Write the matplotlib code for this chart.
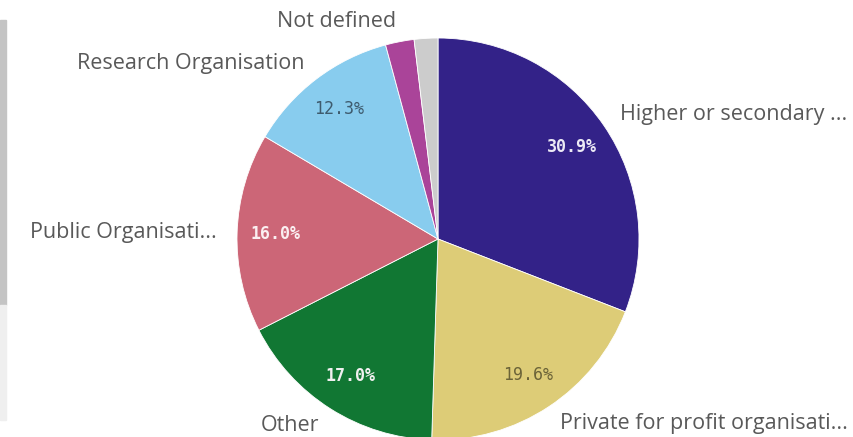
import numpy as np
import matplotlib.pyplot as plt
from matplotlib.patches import Rectangle

# ============================== Data ==========================================
categories = ["Higher or secondary ...", "Private for profit organisati...", "Other",
              "Public Organisati...", "Research Organisation", "Not defined", ""]
shares = [30.9, 19.6, 17.0, 16.0, 12.3, 2.3, 1.9]
pct_shown = ["30.9%", "19.6%", "17.0%", "16.0%", "12.3%", "", ""]
colors = ["#332288", "#DDCC77", "#117733", "#CC6677", "#88CCEE", "#AA4499", "#CCCCCC"]
pct_colors = ["#ECEAF5", "#6B6338", "#F0F0F0", "#FBEFF1", "#3E5B6E", "k", "k"]
pct_bold = [True, False, True, True, False, False, False]

# ============================== Figure ========================================
W, H = 854, 437
fig = plt.figure(figsize=(W/100, H/100), dpi=100)

# left side panel edge from the screenshot
fig.patches.append(Rectangle((0, 1-305/H), 6/W, 285/H, transform=fig.transFigure,
                             color="#C4C4C4", zorder=0))
fig.patches.append(Rectangle((0, 1-420/H), 6/W, 115/H, transform=fig.transFigure,
                             color="#EFEFEF", zorder=0))

cx, cy, r = 438, H-239, 201
ax = fig.add_axes([(cx-r)/W, (cy-r)/H, 2*r/W, 2*r/H])

wedges, texts, autotexts = ax.pie(
    shares, labels=categories, colors=colors, startangle=90, counterclock=False,
    autopct="%1.1f%%", pctdistance=0.81, labeldistance=1.1,
    wedgeprops=dict(edgecolor="white", linewidth=0.6),
    textprops=dict(fontsize=15.5, color="#595959", family="Open Sans"))

for i, t in enumerate(autotexts):
    t.set_text(pct_shown[i])
    t.set_family("DejaVu Sans Mono")
    t.set_fontsize(12)
    t.set_color(pct_colors[i])
    if pct_bold[i]:
        t.set_fontweight("bold")

for t in texts:
    t.set_clip_on(False)

ax.set_xlim(-1, 1)
ax.set_ylim(-1, 1)
ax.set_aspect("equal")
ax.axis("off")

fig.savefig("out.png", dpi=100)
